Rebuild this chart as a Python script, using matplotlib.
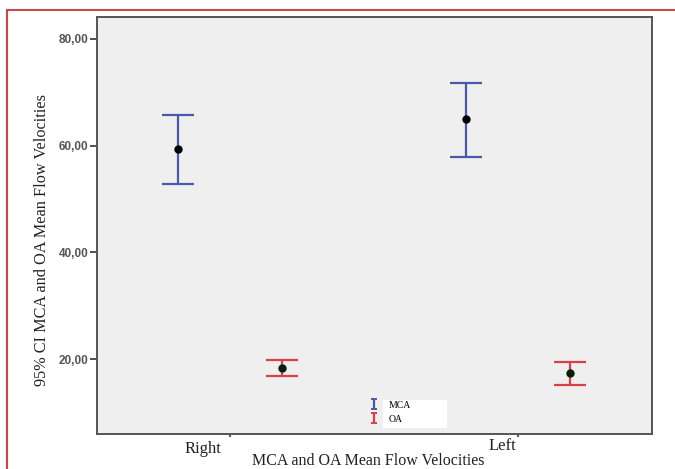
import matplotlib
matplotlib.use("Agg")
import matplotlib.pyplot as plt
from matplotlib.patches import Rectangle
from matplotlib.lines import Line2D
import numpy as np

# Mean flow velocities with 95% confidence intervals
sides = ["Right", "Left"]
vessels = ["MCA", "OA"]
mca_mean = [59.4, 65.0]
mca_low = [52.8, 57.9]
mca_high = [65.8, 71.8]
oa_mean = [18.3, 17.4]
oa_low = [16.8, 15.1]
oa_high = [19.8, 19.4]
y_ticks = [20, 40, 60, 80]
y_tick_labels = ["20,00", "40,00", "60,00", "80,00"]

blue = "#4a5aa6"
red = "#d8414a"
serif = ["Liberation Serif", "DejaVu Serif"]

fig = plt.figure(figsize=(6.75, 4.69), dpi=100)
fig.patch.set_facecolor("white")
ax = fig.add_axes([97 / 675, 1 - 434 / 469, 555 / 675, 417 / 469])
ax.set_facecolor("#eeefee")

x = np.arange(len(sides))
dx = 0.182


def draw_group(xpos, mean, low, high, color, dot):
    mean = np.asarray(mean)
    yerr = [mean - np.asarray(low), np.asarray(high) - mean]
    ax.errorbar(xpos, mean, yerr=yerr, fmt="none", ecolor=color,
                elinewidth=1.6, capsize=11.5, capthick=1.6, zorder=2)
    ax.plot(xpos, mean, "o", color=dot, markersize=5, zorder=3)


draw_group(x - dx, mca_mean, mca_low, mca_high, blue, "#000000")
draw_group(x + dx, oa_mean, oa_low, oa_high, red, "#06200a")

ax.set_xlim(-0.462, 1.465)
ax.set_ylim(5.95, 84.1)

ax.set_yticks(y_ticks)
ax.set_yticklabels(y_tick_labels, fontsize=8.5, color="#555555",
                   fontweight="bold", family="Liberation Sans")
ax.tick_params(axis="y", direction="out", length=5, width=1.2, color="#333333", pad=1)
ax.set_xticks(x)
ax.set_xticklabels([])
ax.tick_params(axis="x", direction="out", length=2, width=1.2, color="#333333")

for s in ax.spines.values():
    s.set_color("#555555")
    s.set_linewidth(1.4)

# category labels sit slightly left of their ticks
label_px = [203, 502]
label_py = [449, 446]
for name, px, py in zip(sides, label_px, label_py):
    fig.text(px / 675, 1 - py / 469, name, ha="center", va="center",
             fontsize=12, family=serif, color="#222222")

fig.text(368 / 675, 1 - 461 / 469, "MCA and OA Mean Flow Velocities",
         ha="center", va="center", fontsize=11.5, family=serif, color="#222222")
fig.text(42 / 675, 1 - 240 / 469, "95% CI MCA and OA Mean Flow Velocities",
         ha="center", va="center", rotation=90, fontsize=11.7, family=serif,
         color="#222222")

# legend: white box behind the text, small error-bar icons on the plot background
ax.add_patch(Rectangle(((383 - 97) / 555, (434 - 428) / 417), 64 / 555, 28 / 417,
                       transform=ax.transAxes, facecolor="white", edgecolor="none",
                       zorder=4))
icons = []
for color in (blue, red):
    icons.append(ax.errorbar([np.nan], [np.nan], yerr=[[1], [1]], fmt="none",
                             ecolor=color, elinewidth=1.6, capsize=2.5,
                             capthick=1.4))
leg = ax.legend(icons, vessels, loc="lower left",
                bbox_to_anchor=((364 - 97) / 555, (434 - 431) / 417),
                frameon=False, prop={"family": serif, "size": 7},
                handlelength=0.6, handleheight=1.1, handletextpad=1.2,
                labelspacing=0.4, borderpad=0.2)
leg.set_zorder(5)

# red frame around the figure
fig.add_artist(Line2D([7 / 675, 1.0], [1 - 10 / 469, 1 - 10 / 469],
                      transform=fig.transFigure, color="#c8494a", linewidth=1.5))
fig.add_artist(Line2D([7 / 675, 7 / 675], [0.0, 1 - 10 / 469],
                      transform=fig.transFigure, color="#c8494a", linewidth=1.5))

fig.savefig("out.png", dpi=100)
